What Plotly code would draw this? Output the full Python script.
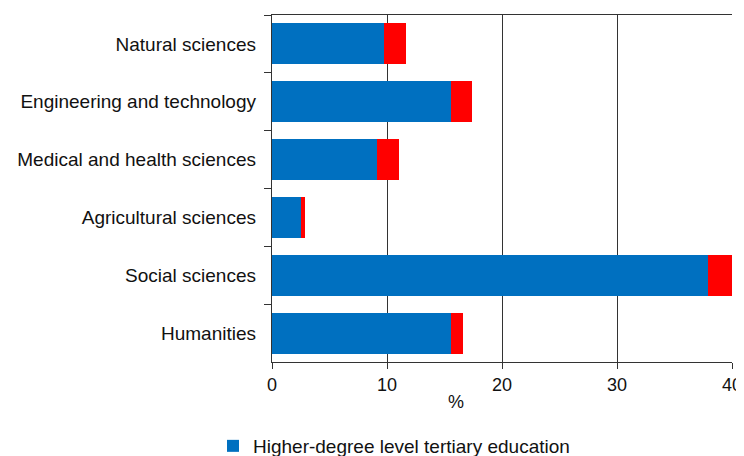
import plotly.graph_objects as go

categories = ["Natural sciences", "Engineering and technology", "Medical and health sciences",
              "Agricultural sciences", "Social sciences", "Humanities"]
higher_degree = [9.75, 15.55, 9.14, 2.52, 37.9, 15.55]
doctorate = [1.88, 1.80, 1.94, 0.35, 2.1, 1.10]
x_ticks = [0, 10, 20, 30, 40]

FONT = "Liberation Sans, Arial, sans-serif"
AX = "#333333"
OFF = 8  # page body margin offset

fig = go.Figure()
fig.add_trace(go.Bar(y=categories, x=higher_degree, orientation="h",
                     name="Higher-degree level tertiary education",
                     marker=dict(color="#0070C0", line=dict(width=0))))
fig.add_trace(go.Bar(y=categories, x=doctorate, orientation="h",
                     name="Doctorate or equivalent level tertiary education",
                     marker=dict(color="#FF0000", line=dict(width=0)),
                     showlegend=False))

fig.update_layout(
    width=744, height=456,
    barmode="stack", bargap=0.293,
    paper_bgcolor="white", plot_bgcolor="white",
    margin=dict(l=272 - OFF, r=744 - (732 - OFF), t=15 - OFF, b=456 - (362 - OFF), autoexpand=False),
    font=dict(family=FONT, size=18, color="#111111"),
    showlegend=True,
    legend=dict(orientation="h", xref="container", yref="container",
                x=205 / 744, xanchor="left", y=(456 - (446 - OFF)) / 456, yanchor="middle",
                font=dict(size=19, color="#111111"), bgcolor="rgba(0,0,0,0)"),
    xaxis=dict(range=[0, 40], tickvals=x_ticks, showgrid=True, gridcolor=AX, gridwidth=1.4,
               zeroline=False, showline=True, linecolor=AX, linewidth=1.4, mirror=True,
               ticks="outside", ticklen=6, tickcolor=AX, tickwidth=1.4,
               tickfont=dict(size=18), automargin=False),
    yaxis=dict(autorange="reversed", showgrid=False, showline=True, linecolor=AX, linewidth=1.4,
               ticks="outside", tickson="boundaries", ticklen=7, tickcolor=AX, tickwidth=1.4,
               tickfont=dict(size=19), ticklabelstandoff=11, automargin=False),
    annotations=[dict(text="%", xref="paper", yref="paper", x=(456 - 272) / 460,
                      y=-(402 - 362) / 347, xanchor="center", yanchor="middle",
                      showarrow=False, font=dict(size=18, color="#111111"))],
)

fig.write_html("out.html")
